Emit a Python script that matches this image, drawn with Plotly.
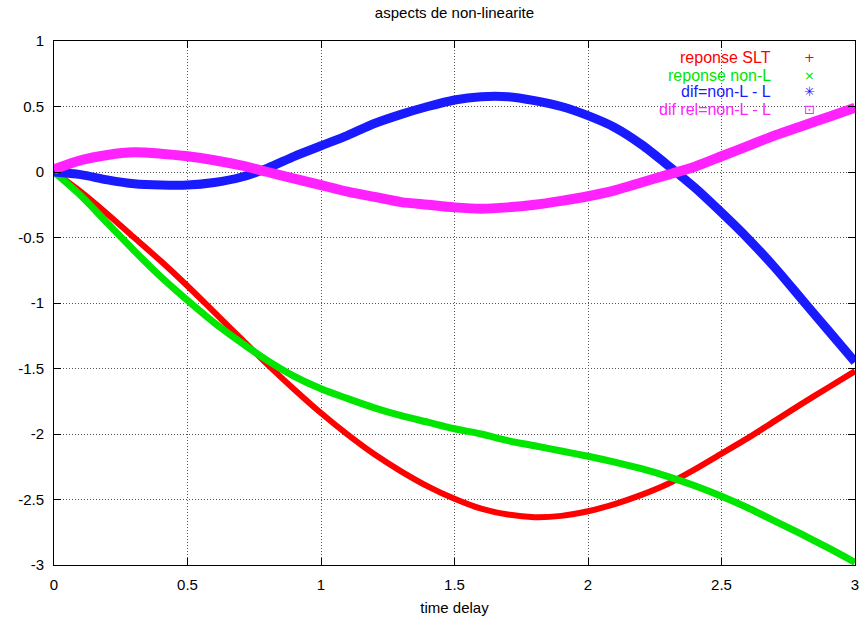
import plotly.graph_objects as go

# time axis (read every 0.1)
time_delay = [0.0, 0.1, 0.2, 0.3, 0.4, 0.5, 0.6, 0.7, 0.8, 0.9, 1.0,
              1.1, 1.2, 1.3, 1.4, 1.5, 1.6, 1.7, 1.8, 1.9, 2.0,
              2.1, 2.2, 2.3, 2.4, 2.5, 2.6, 2.7, 2.8, 2.9, 3.0]

reponse_slt = [0.0, -0.15, -0.32, -0.50, -0.68, -0.87, -1.07, -1.27, -1.47, -1.66, -1.84,
               -2.005, -2.155, -2.285, -2.40, -2.495, -2.57, -2.615, -2.635, -2.625, -2.59,
               -2.535, -2.465, -2.38, -2.27, -2.15, -2.03, -1.90, -1.77, -1.645, -1.52]

reponse_non_l = [0.0, -0.18, -0.39, -0.60, -0.80, -0.98, -1.15, -1.30, -1.44, -1.56, -1.655,
                 -1.73, -1.80, -1.86, -1.91, -1.96, -2.00, -2.05, -2.09, -2.13, -2.17,
                 -2.215, -2.265, -2.325, -2.395, -2.475, -2.565, -2.665, -2.765, -2.87, -2.98]

dif = [0.0, -0.02, -0.06, -0.09, -0.10, -0.10, -0.08, -0.04, 0.03, 0.12, 0.20,
       0.28, 0.37, 0.44, 0.50, 0.55, 0.575, 0.575, 0.545, 0.50, 0.43,
       0.34, 0.21, 0.05, -0.12, -0.31, -0.51, -0.73, -0.97, -1.21, -1.45]

dif_rel = [0.02, 0.09, 0.13, 0.15, 0.14, 0.12, 0.09, 0.05, 0.0, -0.05, -0.10,
           -0.15, -0.19, -0.23, -0.25, -0.27, -0.28, -0.27, -0.25, -0.22, -0.185,
           -0.14, -0.08, -0.02, 0.04, 0.12, 0.20, 0.28, 0.35, 0.42, 0.49]

x_ticks = [0, 0.5, 1, 1.5, 2, 2.5, 3]
x_tick_labels = ["0", "0.5", "1", "1.5", "2", "2.5", "3"]
y_ticks = [1, 0.5, 0, -0.5, -1, -1.5, -2, -2.5, -3]
y_tick_labels = ["1", "0.5", "0", "-0.5", "-1", "-1.5", "-2", "-2.5", "-3"]

series_names = ["reponse SLT", "reponse non-L", "dif=non-L - L", "dif rel=non-L - L"]
series_symbols = ["+", "×", "✳", "⊡"]
series_colors = ["#ff0000", "#00e600", "#1a1aff", "#ff22ff"]
series_widths = [6, 7, 9, 10]
series_values = [reponse_slt, reponse_non_l, dif, dif_rel]

FONT = "Liberation Sans, Arial, sans-serif"

fig = go.Figure()
for name, vals, col, w in zip(series_names, series_values, series_colors, series_widths):
    fig.add_trace(go.Scatter(
        x=time_delay, y=vals, mode="lines", name=name,
        line=dict(color=col, width=w, shape="spline", smoothing=0.8),
        showlegend=False,
    ))

# key box (hides grid behind the key like gnuplot)
fig.add_shape(type="rect", xref="paper", yref="paper", x0=0.68, x1=1.0, y0=0.855, y1=1.0,
              fillcolor="white", line=dict(width=0), layer="between")

key_y = [0.968, 0.935, 0.903, 0.870]
for name, sym, col, ky in zip(series_names, series_symbols, series_colors, key_y):
    fig.add_annotation(xref="paper", yref="paper", x=0.898, y=ky, text=name,
                       showarrow=False, xanchor="right", yanchor="middle",
                       font=dict(family=FONT, size=16, color=col))
    fig.add_annotation(xref="paper", yref="paper", x=0.943, y=ky, text=sym,
                       showarrow=False, xanchor="center", yanchor="middle",
                       font=dict(family="DejaVu Sans", size=13, color=col))

axis_common = dict(
    showline=True, linecolor="black", linewidth=1, mirror="ticks",
    ticks="inside", ticklen=7, tickcolor="black", tickwidth=1,
    showgrid=True, gridcolor="#555555", gridwidth=1, griddash="1px,2px",
    zeroline=False, tickfont=dict(family=FONT, size=15, color="black"),
)

fig.update_layout(
    width=865, height=622,
    margin=dict(l=54, r=6, t=41, b=57),
    paper_bgcolor="white", plot_bgcolor="white",
    title=dict(text="aspects de non-linearite", x=0.5, xref="paper",
               y=1 - 13 / 622, yref="container", yanchor="middle",
               font=dict(family=FONT, size=15, color="black")),
    xaxis=dict(range=[0, 3], tickvals=x_ticks, ticktext=x_tick_labels,
               title=dict(text="time delay", standoff=10, font=dict(family=FONT, size=15, color="black")),
               ticklabelstandoff=6, **axis_common),
    yaxis=dict(range=[-3, 1], tickvals=y_ticks, ticktext=y_tick_labels,
               ticklabelstandoff=6, **axis_common),
    showlegend=False,
)

fig.write_html("out.html")
